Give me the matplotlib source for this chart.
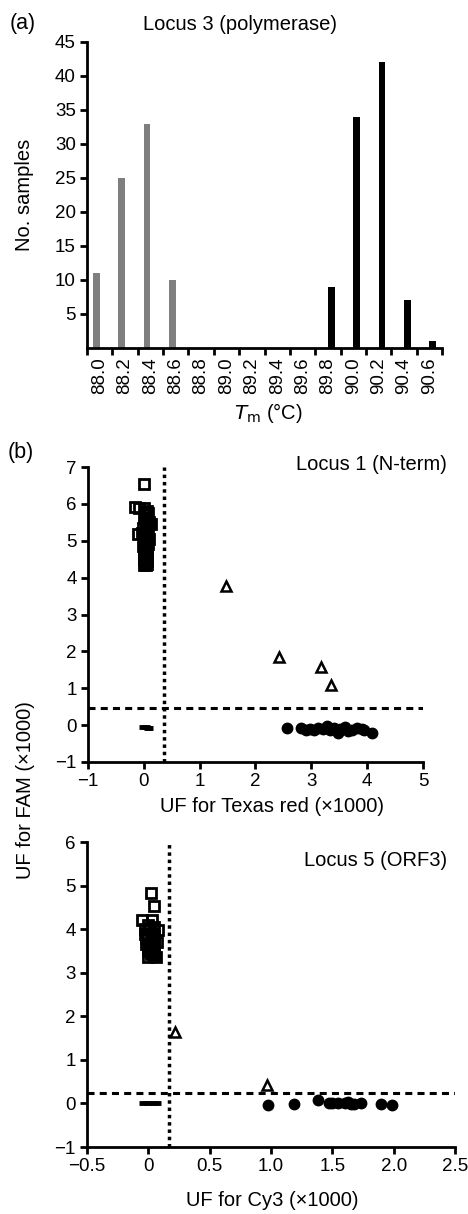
import numpy as np
import matplotlib
matplotlib.use('Agg')
import matplotlib.pyplot as plt

plt.rcParams['font.family'] = ['Liberation Sans', 'DejaVu Sans']
plt.rcParams['axes.linewidth'] = 2.0

# Panel (a) data
tm_labels = ['88.0', '88.2', '88.4', '88.6', '88.8', '89.0', '89.2',
             '89.4', '89.6', '89.8', '90.0', '90.2', '90.4', '90.6']
grey_counts = [11, 25, 33, 10, 0, 0, 0, 0, 0, 0, 0, 0, 0, 0]
black_counts = [0, 0, 0, 0, 0, 0, 0, 0, 0, 9, 34, 42, 7, 1]

# Panel (b) Locus 1 data (Texas red, FAM)
l1_sq_x = [0.0, -0.15, -0.08, 0.0, 0.05, 0.08, 0.02, 0.06, 0.1, 0.12, 0.03, -0.02, 0.06,
           -0.1, -0.03, 0.02, 0.07, 0.1, 0.0, 0.04, 0.08, -0.02, 0.05, 0.0, 0.04,
           0.02, 0.06, 0.0, 0.05, 0.02, 0.06, 0.0, 0.04,
           0.03, 0.01, 0.05, 0.03, 0.01, 0.04, 0.02, 0.06, 0.03, 0.01]
l1_sq_y = [6.55, 5.92, 5.9, 5.88, 5.82, 5.75, 5.7, 5.6, 5.5, 5.45, 5.45, 5.35, 5.3,
           5.18, 5.2, 5.15, 5.12, 5.05, 5.0, 4.95, 4.9, 4.85, 4.8, 4.7, 4.65,
           4.6, 4.55, 4.48, 4.45, 4.4, 4.38, 4.33, 4.33,
           5.78, 5.62, 5.4, 5.28, 5.08, 4.98, 4.88, 4.75, 4.62, 4.52]
l1_tri_x = [1.48, 2.42, 3.17, 3.35]
l1_tri_y = [3.78, 1.85, 1.58, 1.1]
l1_ntc_x = [-0.02, 0.03, 0.08, 0.1]
l1_ntc_y = [-0.05, -0.06, -0.08, -0.08]
l1_ci_x = [2.57, 2.82, 2.9, 2.97, 3.05, 3.12, 3.2, 3.28, 3.33, 3.4, 3.47, 3.52,
           3.6, 3.65, 3.72, 3.82, 3.9, 3.95, 4.08]
l1_ci_y = [-0.07, -0.08, -0.12, -0.1, -0.12, -0.08, -0.1, -0.02, -0.12, -0.08, -0.2, -0.1,
           -0.05, -0.15, -0.12, -0.08, -0.1, -0.12, -0.2]
l1_cut_x = 0.37
l1_cut_y = 0.47

# Panel (b) Locus 5 data (Cy3, FAM)
l5_sq_x = [0.02, 0.05, -0.05, 0.03, 0.0, 0.05, -0.03, 0.08, 0.0, 0.05, -0.02, 0.03,
           0.0, 0.05, 0.0, 0.03, 0.05, 0.0, 0.06, -0.03, 0.07, 0.02, -0.02,
           0.01, 0.04, 0.02, 0.05, 0.01, 0.03, 0.02]
l5_sq_y = [4.83, 4.53, 4.2, 4.22, 4.1, 4.05, 4.0, 3.98, 3.9, 3.85, 3.8, 3.75,
           3.65, 3.6, 3.5, 3.45, 3.4, 3.35, 3.35, 3.9, 3.7, 3.55, 3.65,
           4.02, 3.92, 3.82, 3.72, 3.6, 3.52, 3.42]
l5_tri_x = [0.22, 0.97]
l5_tri_y = [1.65, 0.42]
l5_ntc_x = [-0.04, 0.0, 0.04, 0.07]
l5_ntc_y = [0.0, 0.0, 0.0, 0.0]
l5_ci_x = [0.975, 1.19, 1.38, 1.47, 1.5, 1.55, 1.6, 1.63, 1.65, 1.68, 1.73, 1.9, 1.99]
l5_ci_y = [-0.03, -0.02, 0.07, 0.01, 0.0, 0.01, 0.02, 0.03, -0.01, -0.02, 0.01, -0.01, -0.04]
l5_cut_x = 0.17
l5_cut_y = 0.25

W, H = 468, 1214
fig = plt.figure(figsize=(W / 100, H / 100), dpi=100)

TICK_FS = 13.5
LAB_FS = 14.5


def box(l, r, t, b):
    return [l / W, 1 - b / H, (r - l) / W, (b - t) / H]


def style_axes(ax):
    for s in ['top', 'right']:
        ax.spines[s].set_visible(False)
    ax.tick_params(direction='out', length=5, width=2.0, labelsize=TICK_FS, pad=3)


# ---- panel (a) ----
ax = fig.add_axes(box(87, 442, 42, 348))
style_axes(ax)
x = np.arange(len(tm_labels))
bw = 0.27
ax.bar(x - bw / 2, grey_counts, width=bw, color='#7f7f7f')
ax.bar(x + bw / 2, black_counts, width=bw, color='black')
ax.set_xlim(-0.5, len(tm_labels) - 0.5)
ax.set_ylim(0, 45)
ax.set_yticks(range(5, 46, 5))
ax.set_xticks(x)
ax.set_xticklabels(tm_labels, rotation=90)
ax.set_xticks(np.arange(-0.5, len(tm_labels)), minor=True)
ax.tick_params(axis='x', which='major', length=0, pad=7)
ax.tick_params(axis='x', which='minor', length=5, width=2.0)
fig.text(240 / W, 1 - 24 / H, 'Locus 3 (polymerase)', ha='center', va='center', fontsize=LAB_FS)
fig.text(10 / W, 1 - 24 / H, '(a)', ha='left', va='center', fontsize=15.5)
fig.text(24 / W, 1 - 195 / H, 'No. samples', ha='center', va='center', rotation=90, fontsize=LAB_FS)
fig.text(268 / W, 1 - 413 / H, r'$\mathit{T}_{\mathrm{m}}$ (°C)', ha='center', va='center', fontsize=LAB_FS)


def scatter_panel(ax, sx, sy, tx, ty, nx, ny, cx, cy, vx, hy, xlim, ylim):
    style_axes(ax)
    ax.plot(sx, sy, 's', ms=7, mfc='none', mec='black', mew=2.0, ls='none')
    ax.plot(tx, ty, '^', ms=7.5, mfc='white', mec='black', mew=1.8, ls='none')
    ax.plot(nx, ny, '_', ms=6, mec='black', mew=3.5, ls='none')
    ax.plot(cx, cy, 'o', ms=7.5, color='black', ls='none')
    ax.plot([vx, vx], list(ylim), color='black', lw=2.5, ls=(0, (1, 1.1)))
    ax.plot(list(xlim), [hy, hy], color='black', lw=2.2, ls=(0, (2.3, 1.7)))
    ax.set_xlim(*xlim)
    ax.set_ylim(*ylim)


# ---- panel (b) Locus 1 ----
ax1 = fig.add_axes(box(88, 423, 467, 762))
scatter_panel(ax1, l1_sq_x, l1_sq_y, l1_tri_x, l1_tri_y, l1_ntc_x, l1_ntc_y,
              l1_ci_x, l1_ci_y, l1_cut_x, l1_cut_y, (-1, 5), (-1, 7))
ax1.set_xticks(range(-1, 6))
ax1.set_yticks(range(-1, 8))
fig.text(447 / W, 1 - 465 / H, 'Locus 1 (N-term)', ha='right', va='center', fontsize=LAB_FS)
fig.text(272 / W, 1 - 806 / H, 'UF for Texas red (×1000)', ha='center', va='center', fontsize=LAB_FS)
fig.text(8 / W, 1 - 452 / H, '(b)', ha='left', va='center', fontsize=15.5)

# ---- panel (b) Locus 5 ----
ax2 = fig.add_axes(box(87, 455, 842, 1147))
scatter_panel(ax2, l5_sq_x, l5_sq_y, l5_tri_x, l5_tri_y, l5_ntc_x, l5_ntc_y,
              l5_ci_x, l5_ci_y, l5_cut_x, l5_cut_y, (-0.5, 2.5), (-1, 6))
l5_xticks = [-0.5, 0, 0.5, 1.0, 1.5, 2.0, 2.5]
l5_xticklabels = ['\u22120.5', '0', '0.5', '1.0', '1.5', '2.0', '2.5']
ax2.set_xticks(l5_xticks)
ax2.set_xticklabels(l5_xticklabels)
ax2.set_yticks(range(-1, 7))
fig.text(447 / W, 1 - 860 / H, 'Locus 5 (ORF3)', ha='right', va='center', fontsize=LAB_FS)
fig.text(272 / W, 1 - 1200 / H, 'UF for Cy3 (×1000)', ha='center', va='center', fontsize=LAB_FS)

fig.text(26 / W, 1 - 790 / H, 'UF for FAM (×1000)', ha='center', va='center', rotation=90, fontsize=LAB_FS)

fig.savefig('out.png', dpi=100)
